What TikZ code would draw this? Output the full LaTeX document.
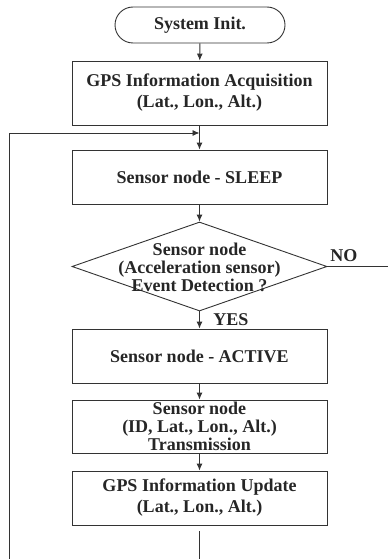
\documentclass[tikz,border=0pt]{standalone}
\usepackage{fontspec}
\setmainfont{Liberation Serif}
\usetikzlibrary{shapes.geometric,shapes.misc,arrows.meta}
\begin{document}
\begin{tikzpicture}[x=1pt,y=-1pt,
  line width=0.9pt, draw=black!80,
  txt/.style={font=\fontsize{18}{18}\selectfont\bfseries, align=center, text=black!85},
  wide/.style={font=\fontsize{18}{21}\selectfont\bfseries},
  box/.style={txt, draw, rectangle, minimum width=255pt, inner sep=0pt},
  term/.style={txt, draw, rounded rectangle, minimum width=170pt, minimum height=36pt, inner sep=0pt},
  arr/.style={-{Latex[length=7pt,width=6pt]}}
]
\useasboundingbox (0,0) rectangle (388,559);
\node[term] (init) at (200,25) {System Init.};
\node[box, minimum height=64pt, wide] (gps) at (199.5,93) {GPS Information Acquisition\\(Lat., Lon., Alt.)};
\node[box, minimum height=54pt] (sleep) at (199.5,177) {Sensor node - SLEEP};
\node[diamond, draw, minimum width=255pt, minimum height=89pt, inner sep=0pt] (dec) at (199.5,266.5) {};
\node[txt] (dect) at (199.5,267) {Sensor node\\(Acceleration sensor)\\Event Detection ?};
\node[box, minimum height=54pt] (act) at (199.5,356) {Sensor node - ACTIVE};
\node[box, minimum height=53pt] (tx) at (199.5,426.5) {Sensor node\\(ID, Lat., Lon., Alt.)\\Transmission};
\node[box, minimum height=54pt, wide] (upd) at (199.5,498) {GPS Information Update\\(Lat., Lon., Alt.)};
\node[txt, anchor=west, inner sep=0pt] (no) at (330,256) {NO};
\node[txt, anchor=west, inner sep=0pt] (yes) at (213,320) {YES};
\coordinate (merge) at (199.5,133);
\coordinate (lefttop) at (9,133);
\coordinate (leftbot) at (9,559);
\coordinate (noend) at (388,266.5);
\coordinate (updtop) at (199.5,531);
\coordinate (updbot) at (199.5,559);
\draw[arr] (init) -- (gps);
\draw[arr] (gps) -- (sleep);
\draw[arr] (sleep) -- (dec);
\draw[arr] (dec) -- (act);
\draw[arr] (act) -- (tx);
\draw[arr] (tx) -- (upd);
\draw (dec.east) -- (noend);
\draw[arr] (leftbot) -- (lefttop) -- (merge);
\draw (updtop) -- (updbot);
\end{tikzpicture}
\end{document}
